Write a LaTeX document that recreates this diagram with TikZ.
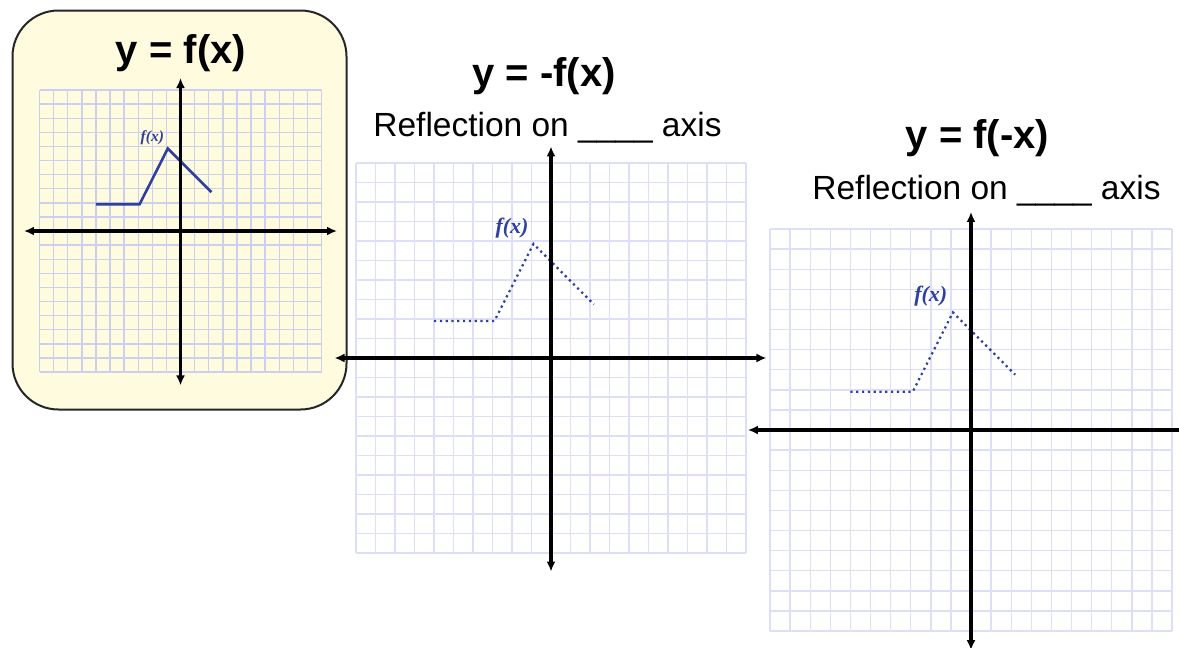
\documentclass[tikz,border=0pt]{standalone}
\usepackage{fontspec}
\setmainfont{Liberation Sans}
\newfontfamily\fxfont{Liberation Serif}
\usetikzlibrary{arrows.meta}
\definecolor{boxfill}{HTML}{FEFBDF}
\definecolor{gridA}{HTML}{CDCFEE}
\definecolor{gridB}{HTML}{DDDFFA}
\definecolor{fblue}{HTML}{2E3F9E}
\tikzset{
  axistip/.tip={Latex[length=10pt,width=9pt]},
  axisline/.style={line width=3.2pt, black},
  titletext/.style={anchor=base, font=\fontsize{40}{44}\selectfont\bfseries, inner sep=0pt},
  subtext/.style={anchor=base, font=\fontsize{33.5}{38}\selectfont, inner sep=0pt},
  solidf/.style={draw=fblue, line width=2.6pt, line join=miter},
  dottedf/.style={draw=fblue, line width=2.2pt, dash pattern=on 2.2pt off 3.6pt},
}
% #1 ox, #2 oy, #3 cell, #4 grid colour, #5 function style, #6 label size, #7 name prefix, #8 right axis end
\newcommand\graphpanel[8]{%
  \begin{scope}[shift={(#1,#2)}, x=#3pt, y=#3pt]
    \foreach \i in {-10,...,10} {
      \draw[draw=#4, line width=1.4pt] (\i,-10) -- (\i,10);
      \draw[draw=#4, line width=1.4pt] (-10,\i) -- (10,\i);
    }
    \coordinate (#7xl) at (-11.1,0);
    \coordinate (#7xr) at (#8,0);
    \coordinate (#7yt) at (0,10.85);
    \coordinate (#7yb) at (0,-10.95);
    \coordinate (#7f1) at (-6,1.9);
    \coordinate (#7f2) at (-2.9,1.9);
    \coordinate (#7f3) at (-0.9,5.85);
    \coordinate (#7f4) at (2.2,2.75);
    \draw[#5] (#7f1) -- (#7f2) -- (#7f3) -- (#7f4);
    \node[text=fblue, font=\fxfont\bfseries\itshape\fontsize{#6}{#6}\selectfont, inner sep=0pt] (#7lab) at (-2,6.65) {f(x)};
  \end{scope}
}
\begin{document}
\begin{tikzpicture}[x=1pt,y=-1pt]
\useasboundingbox (0,0) rectangle (1179,648);
\fill[white] (0,0) rectangle (1179,648);

% panel 1
\node[draw=black!85, line width=2pt, fill=boxfill, rounded corners=46pt,
      minimum width=334pt, minimum height=399pt, inner sep=0pt] (box1) at (179.5,210) {};
\graphpanel{180.5}{231}{14.1}{gridA}{solidf}{15.5}{p1}{11.1}
\draw[axisline, axistip-axistip] (p1xl) -- (p1xr);
\draw[axisline, axistip-axistip] (p1yt) -- (p1yb);
\node[titletext] (t1) at (181,63) {y = f(x)};

% panel 2
\graphpanel{551}{358}{19.5}{gridB}{dottedf}{22}{p2}{11.05}
\draw[axisline, line width=3.5pt, axistip-axistip] (p2xl) -- (p2xr);
\draw[axisline, line width=3.5pt, axistip-axistip] (p2yt) -- (p2yb);
\node[titletext] (t2) at (544,86) {y = -f(x)};
\node[subtext] (s2) at (547.5,136) {Reflection on \_\_\_\_ axis};

% panel 3
\graphpanel{971}{430}{20.1}{gridB}{dottedf}{22}{p3}{10.4}
\draw[axisline, line width=3.5pt, axistip-] (p3xl) -- (p3xr);
\draw[axisline, line width=3.5pt, axistip-axistip] (p3yt) -- (p3yb);
\node[titletext] (t3) at (977.5,148) {y = f(-x)};
\node[subtext] (s3) at (986.5,199) {Reflection on \_\_\_\_ axis};
\end{tikzpicture}
\end{document}
